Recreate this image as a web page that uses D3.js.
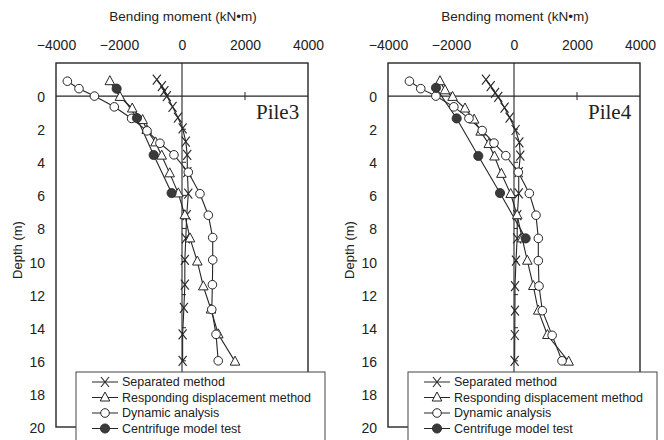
<!DOCTYPE html>
<html lang="en">
<head>
<meta charset="UTF-8">
<title>Bending moment vs depth</title>
<style>
body { margin: 0; background: #fff; }
svg { display: block; }
text { font-family: 'Liberation Sans', Arial, sans-serif; fill: #222; }
.pileName { font-family: 'Liberation Serif', 'DejaVu Serif', serif; font-size: 21px; }
</style>
</head>
<body>
<svg width="664" height="440"></svg>
<script src="https://d3js.org/d3.v7.min.js"></script>
<script>

// depth ticks / moment ticks
var momentTicks = [-4000, -2000, 0, 2000, 4000];
var depthTicks = [0, 2, 4, 6, 8, 10, 12, 14, 16, 18, 20];
var seriesNames = ["Separated method", "Responding displacement method", "Dynamic analysis", "Centrifuge model test"];
var pileNames = ["Pile3", "Pile4"];

// Pile3
var p3SepDepth = [-1.0, -0.6, -0.3, 0, 0.65, 1.3, 1.95, 2.75, 3.55, 4.6, 5.9, 7.2, 8.6, 9.9, 11.4, 12.8, 14.4, 16.0];
var p3SepMoment = [-800, -640, -560, -480, -300, -130, 20, 120, 165, 170, 200, 150, 120, 90, 90, 60, 20, 20];
var p3RespDepth = [-0.9, 0.05, 0.75, 1.45, 2.05, 2.8, 3.6, 4.67, 5.88, 7.2, 8.6, 10.0, 11.5, 12.9, 14.4, 16.05];
var p3RespMoment = [-2290, -1970, -1580, -1250, -1120, -840, -645, -390, -117, 90, 254, 487, 677, 920, 1153, 1683];
var p3DynDepth = [-0.9, -0.45, 0, 0.65, 1.35, 2.1, 2.85, 3.55, 4.6, 5.9, 7.2, 8.55, 9.9, 11.4, 12.9, 14.4, 16.0];
var p3DynMoment = [-3640, -3270, -2780, -2150, -1600, -1110, -700, -255, 200, 570, 835, 975, 975, 965, 945, 1080, 1150];
var p3CenDepth = [-0.45, 1.33, 3.56, 5.86];
var p3CenMoment = [-2075, -1430, -900, -330];

// Pile4
var p4SepDepth = [-1.0, -0.6, -0.2, 0.05, 0.7, 1.3, 2.05, 2.8, 3.6, 4.6, 5.88, 7.2, 8.6, 9.95, 11.48, 12.97, 14.44, 16.0];
var p4SepMoment = [-890, -740, -600, -500, -300, -140, 50, 170, 200, 150, 150, 105, 100, 63, 32, 30, 25, 20];
var p4RespDepth = [-0.9, -0.35, 0.05, 0.75, 1.42, 2.15, 2.9, 3.65, 4.7, 5.92, 7.2, 8.6, 9.95, 11.48, 12.97, 14.44, 16.05];
var p4RespMoment = [-2350, -2190, -1950, -1556, -1265, -1058, -800, -620, -400, -105, 100, 260, 423, 614, 772, 1060, 1735];
var p4DynDepth = [-0.9, -0.45, 0, 0.65, 1.35, 2.08, 2.84, 3.6, 4.6, 5.88, 7.2, 8.6, 9.95, 11.48, 12.97, 14.46, 16.0];
var p4DynMoment = [-3320, -2960, -2480, -1910, -1430, -1010, -635, -260, 137, 486, 698, 772, 772, 794, 899, 1210, 1524];
var p4CenDepth = [-0.5, 1.35, 3.62, 5.86, 8.6];
var p4CenMoment = [-2476, -1820, -1133, -444, 370];

var zip = function(depths, moments) {
    return depths.map(function(d, i) { return {depth: d, moment: moments[i]}; });
};

var piles = [
    [zip(p3SepDepth, p3SepMoment), zip(p3RespDepth, p3RespMoment), zip(p3DynDepth, p3DynMoment), zip(p3CenDepth, p3CenMoment)],
    [zip(p4SepDepth, p4SepMoment), zip(p4RespDepth, p4RespMoment), zip(p4DynDepth, p4DynMoment), zip(p4CenDepth, p4CenMoment)]
];

var translate = function(left, top) {
    return "translate(" + left + "," + top + ")";
};

var svg = d3.select("svg");
var ink = "#262626";
var labelFont = "'Liberation Sans', Arial, sans-serif";

var x = d3.scaleLinear().domain([-4000, 4000]).range([56, 308]);
var y = d3.scaleLinear().domain([-2, 20]).range([63, 427]);

// marker drawing, kind = index of series
var drawMarker = function(g, kind) {
    if (kind == 0) {
        g.append("path").attr("d", "M-4,-5L4,5M-4,5L4,-5")
            .attr("stroke", ink).attr("stroke-width", 1.1).attr("fill", "none");
    } else if (kind == 1) {
        g.append("path").attr("d", "M0,-5.5L4.8,3.5L-4.8,3.5Z")
            .attr("stroke", ink).attr("stroke-width", 1).attr("fill", "#fff");
    } else if (kind == 2) {
        g.append("circle").attr("r", 4.3)
            .attr("stroke", ink).attr("stroke-width", 1).attr("fill", "#fff");
    } else {
        g.append("circle").attr("r", 4.6)
            .attr("stroke", ink).attr("stroke-width", 0.8).attr("fill", "#3a3a3a");
    }
};

var line = d3.line()
    .x(function(d) { return x(d.moment); })
    .y(function(d) { return y(d.depth); });

piles.forEach(function(series, p) {
    var panel = svg.append("g").attr("transform", translate(p * 332, 0));

    panel.append("text")
        .attr("x", 183).attr("y", 21)
        .attr("text-anchor", "middle")
        .style("font-size", "13.5px")
        .text("Bending moment (kN\u2022m)");

    var topAxis = d3.axisTop(x).tickValues(momentTicks).tickFormat(d3.format("d"))
        .tickSize(0).tickPadding(3);
    panel.append("g").attr("transform", translate(0, 53)).call(topAxis)
        .call(function(g) { g.select(".domain").remove(); })
        .selectAll("text").style("font-size", "14px").style("font-family", labelFont).attr("fill", "#222");

    var leftAxis = d3.axisLeft(y).tickValues(depthTicks).tickSize(0).tickPadding(11);
    panel.append("g").attr("transform", translate(56, 1)).call(leftAxis)
        .call(function(g) { g.select(".domain").remove(); })
        .selectAll("text").style("font-size", "14px").style("font-family", labelFont).attr("fill", "#222");

    panel.append("text")
        .attr("transform", translate(22, 250) + " rotate(-90)")
        .attr("text-anchor", "middle")
        .style("font-size", "13px")
        .text("Depth (m)");

    // frame and zero lines
    panel.append("rect")
        .attr("x", x(-4000)).attr("y", y(-2))
        .attr("width", x(4000) - x(-4000)).attr("height", y(20) - y(-2))
        .attr("fill", "none").attr("stroke", ink).attr("stroke-width", 1.4);
    panel.append("line")
        .attr("x1", x(0)).attr("x2", x(0)).attr("y1", y(-2)).attr("y2", y(20))
        .attr("stroke", ink).attr("stroke-width", 1.1);
    panel.append("line")
        .attr("x1", x(-4000)).attr("x2", x(4000)).attr("y1", y(0)).attr("y2", y(0))
        .attr("stroke", ink).attr("stroke-width", 1.1);

    // small ticks on the zero lines
    panel.selectAll(".mtick").data([-2000, 2000]).enter().append("line")
        .attr("x1", function(d) { return x(d); }).attr("x2", function(d) { return x(d); })
        .attr("y1", y(0) - 4).attr("y2", y(0) + 4)
        .attr("stroke", ink).attr("stroke-width", 1);
    panel.selectAll(".dtick").data(depthTicks.slice(1)).enter().append("line")
        .attr("x1", x(0)).attr("x2", x(0) + 4)
        .attr("y1", function(d) { return y(d); }).attr("y2", function(d) { return y(d); })
        .attr("stroke", ink).attr("stroke-width", 1);

    series.forEach(function(points) {
        panel.append("path").datum(points)
            .attr("d", line)
            .attr("fill", "none").attr("stroke", ink).attr("stroke-width", 1.1);
    });

    series.forEach(function(points, k) {
        panel.selectAll(".m" + k).data(points).enter().append("g")
            .attr("transform", function(d) { return translate(x(d.moment), y(d.depth)); })
            .each(function() { drawMarker(d3.select(this), k); });
    });

    panel.append("text")
        .attr("class", "pileName")
        .attr("x", 256).attr("y", 119)
        .text(pileNames[p]);

    // legend
    var legend = panel.append("g").attr("transform", translate(76, 372));
    legend.append("rect")
        .attr("width", 249).attr("height", 80)
        .attr("fill", "#fff").attr("stroke", "#444").attr("stroke-width", 1);

    seriesNames.forEach(function(name, k) {
        var row = legend.append("g").attr("transform", translate(0, 10 + k * 15.5));
        row.append("line").attr("x1", 16).attr("x2", 42)
            .attr("stroke", ink).attr("stroke-width", 1);
        var m = row.append("g").attr("transform", translate(29, 0));
        drawMarker(m, k);
        row.append("text").attr("x", 46).attr("dy", "0.35em")
            .style("font-size", "12.5px")
            .text(name);
    });
});

</script>
</body>
</html>
